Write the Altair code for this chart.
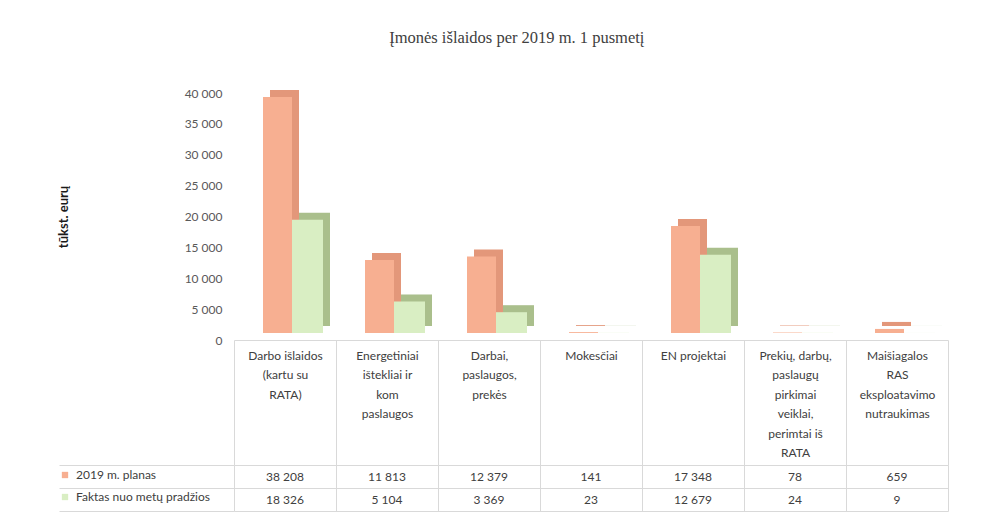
import altair as alt
import pandas as pd

categories = [
    "Darbo išlaidos|(kartu su|RATA)",
    "Energetiniai|ištekliai ir|kom|paslaugos",
    "Darbai,|paslaugos,|prekės",
    "Mokesčiai",
    "EN projektai",
    "Prekių, darbų,|paslaugų|pirkimai|veiklai,|perimtai iš|RATA",
    "Maišiagalos|RAS|eksploatavimo|nutraukimas",
]
plan_2019 = [38208, 11813, 12379, 141, 17348, 78, 659]
fact_ytd = [18326, 5104, 3369, 23, 12679, 24, 9]
series_names = ["2019 m. planas", "Faktas nuo metų pradžios"]
y_ticks = [0, 5000, 10000, 15000, 20000, 25000, 30000, 35000, 40000]

rows = []
for i, c in enumerate(categories):
    rows.append({"category": c, "series": series_names[0], "value": plan_2019[i]})
    rows.append({"category": c, "series": series_names[1], "value": fact_ytd[i]})
df = pd.DataFrame(rows)

FRONT = ["#F7AF91", "#D9EEC3"]
SIDE = ["#E3977A", "#AABF8C"]
LABEL = "#404040"
GRID = "#D9D9D9"
FONT = "Lato"
W = 714

x_top = alt.X(
    "category:N", sort=categories,
    scale=alt.Scale(paddingInner=0, paddingOuter=0),
    axis=alt.Axis(
        title=None, labelAngle=0, labelExpr="split(datum.label, '|')",
        labelFont=FONT, labelFontSize=12, labelColor=LABEL, labelLineHeight=19.5,
        labelPadding=-115, labelBaseline="top", labelLimit=200,
        tickBand="extent", tickSize=125, tickColor=GRID, domainColor=GRID, grid=False,
    ),
)
y_top = alt.Y(
    "value:Q", scale=alt.Scale(domain=[0, 40000], nice=False),
    axis=alt.Axis(
        title="tūkst. eurų", values=y_ticks, format=",d",
        labelFont=FONT, labelFontSize=12, labelColor="#595959", labelPadding=12,
        domain=False, ticks=False, grid=False,
        titleFont=FONT, titleFontSize=13, titleFontWeight="bold", titleColor="#1a1a1a",
        titlePadding=114,
    ),
)

base = alt.Chart(df).encode(x=x_top, y=y_top)
plan = base.transform_filter(alt.datum.series == series_names[0])
fact = base.transform_filter(alt.datum.series == series_names[1])

color = alt.Color(
    "series:N",
    scale=alt.Scale(domain=series_names, range=FRONT),
    legend=alt.Legend(
        orient="none", legendX=-175, legendY=376, title=None, padding=0,
        symbolType="square", symbolSize=40, symbolStrokeWidth=0,
        labelFont=FONT, labelFontSize=12, labelColor=LABEL, labelLimit=250,
        labelOffset=5, rowPadding=10,
    ),
)

plan_back = plan.mark_bar(width=29, xOffset=-0.5, yOffset=-14, y2Offset=-14, color=SIDE[0])
plan_front = plan.mark_bar(width=29, xOffset=-7.5, yOffset=-7, y2Offset=-7).encode(color=color)
fact_back = fact.mark_bar(width=31, xOffset=29.5, yOffset=-14, y2Offset=-14, color=SIDE[1])
fact_front = fact.mark_bar(width=31, xOffset=22.5, yOffset=-7, y2Offset=-7).encode(color=color)

top = alt.layer(plan_back, plan_front, fact_back, fact_front).properties(width=W, height=247)

table = alt.Chart(df).mark_text(font=FONT, fontSize=12, color=LABEL).encode(
    x=alt.X(
        "category:N", sort=categories,
        scale=alt.Scale(paddingInner=0, paddingOuter=0),
        axis=alt.Axis(title=None, labels=False, ticks=False, domain=False, grid=True,
                      tickBand="extent", gridColor=GRID),
    ),
    y=alt.Y(
        "series:N", sort=series_names,
        scale=alt.Scale(paddingInner=0, paddingOuter=0),
        axis=alt.Axis(title=None, labels=False, domain=False, ticks=True, tickSize=175,
                      tickBand="extent", tickColor=GRID, grid=True, gridColor=GRID),
    ),
    text=alt.Text("value:Q", format=",d"),
).properties(width=W, height=46)

chart = (
    alt.vconcat(top, table, spacing=125, bounds="flush")
    .resolve_scale(color="independent")
    .resolve_legend(color="independent")
    .properties(
        title=alt.TitleParams(
            "Įmonės išlaidos per 2019 m. 1 pusmetį",
            font="Liberation Serif", fontSize=16.5, fontWeight="normal", color="#404040",
            anchor="middle", offset=40, dx=14,
        ),
        padding={"left": 48, "top": 22, "right": 10, "bottom": 5},
    )
    .configure(locale={"number": {"decimal": ",", "thousands": " ", "grouping": [3],
                                  "currency": ["", " €"]}})
    .configure_view(stroke="transparent")
)

chart.save("out.html", embed_options={"renderer": "svg", "actions": False})
